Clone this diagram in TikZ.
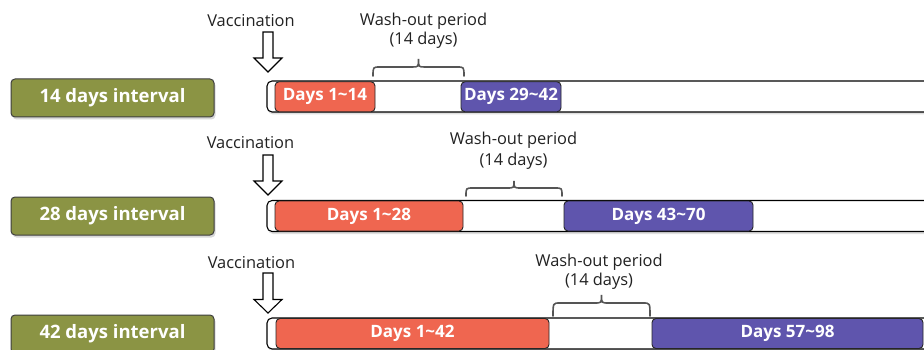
\documentclass[tikz,border=0pt]{standalone}
\usepackage{fontspec}
\setmainfont{Open Sans}
\usetikzlibrary{shadows}
\definecolor{gboxc}{HTML}{8B9444}
\definecolor{gedge}{HTML}{3E3E3E}
\definecolor{rbarc}{HTML}{EF6650}
\definecolor{bbarc}{HTML}{5F55AD}
\definecolor{bracec}{HTML}{555555}
\definecolor{txtc}{HTML}{222222}
\begin{document}
\begin{tikzpicture}[x=1pt,y=-1pt,
  lbl/.style={draw=gedge, fill=gboxc, rounded corners=4pt, minimum width=203pt,
    minimum height=38pt, inner sep=0pt, text=white, line width=1pt,
    font=\fontsize{18.5}{20}\selectfont\bfseries,
    drop shadow={opacity=0.3, shadow xshift=1.5pt, shadow yshift=-2.5pt}},
  dbar/.style={draw=black!85, rounded corners=4pt, minimum height=30pt, inner sep=0pt,
    text=white, line width=0.9pt, font=\fontsize{17}{18}\selectfont\bfseries},
  redbar/.style={dbar, fill=rbarc},
  bluebar/.style={dbar, fill=bbarc},
  wbar/.style={draw=black, fill=white, line width=1.1pt, rounded corners=5pt,
    drop shadow={opacity=0.25, shadow xshift=1pt, shadow yshift=-2.5pt}},
  vtext/.style={anchor=base, inner sep=0pt, text=txtc, font=\fontsize{16.4}{18}\selectfont},
  varrow/.style={draw=black, fill=white, line width=1.1pt, line join=miter},
  wbrace/.style={draw=bracec, line width=1.6pt, line cap=round}
]
\clip (0,0) rectangle (924,350);
\fill[white] (0,0) rectangle (924,350);

% ---------- Row 1 ----------
\node[lbl] (l1) at (112.5,98) {14 days interval};
\draw[wbar] (267,81) rectangle (945,112);
\node[redbar, minimum width=100pt] (r1) at (325,96.8) {Days 1\textasciitilde 14};
\node[bluebar, minimum width=100pt] (b1) at (511,96.8) {Days 29\textasciitilde 42};
\node[vtext] (v1) at (251,27) {Vaccination};
\draw[varrow] (263,32) -- (273,32) -- (273,58) -- (282,58) -- (268,72) -- (254,58) -- (263,58) -- cycle;
\node[vtext] (w1a) at (423.5,26) {Wash-out period};
\node[vtext] (w1b) at (423.5,45) {(14 days)};
\draw[wbrace] (373,76) .. controls (373,67) .. (380,67) -- (412,67)
  .. controls (418.5,67) .. (418.5,59) .. controls (418.5,67) .. (425,67)
  -- (457,67) .. controls (464,67) .. (464,76);

% ---------- Row 2 ----------
\node[lbl] (l2) at (112.5,216) {28 days interval};
\draw[wbar] (267,200.5) rectangle (945,231.5);
\node[redbar, minimum width=188pt] (r2) at (369,216) {Days 1\textasciitilde 28};
\node[bluebar, minimum width=189pt] (b2) at (658.5,216) {Days 43\textasciitilde 70};
\node[vtext] (v2) at (250.5,149) {Vaccination};
\draw[varrow] (263,155) -- (273,155) -- (273,181) -- (282,181) -- (268,195) -- (254,181) -- (263,181) -- cycle;
\node[vtext] (w2a) at (513.5,145) {Wash-out period};
\node[vtext] (w2b) at (513.5,165) {(14 days)};
\draw[wbrace] (466,196) .. controls (466,188) .. (473,188) -- (507,188)
  .. controls (514,188) .. (514,181) .. controls (514,188) .. (521,188)
  -- (555,188) .. controls (562,188) .. (562,196);

% ---------- Row 3 ----------
\node[lbl] (l3) at (112.5,334) {42 days interval};
\draw[wbar] (267,318) rectangle (945,349);
\node[redbar, minimum width=273pt] (r3) at (412.5,333.5) {Days 1\textasciitilde 42};
\node[bluebar, minimum width=271pt] (b3) at (787.5,333.5) {Days 57\textasciitilde 98};
\node[vtext] (v3) at (251.5,268) {Vaccination};
\draw[varrow] (263,273) -- (273,273) -- (273,299.5) -- (282,299.5) -- (268,313) -- (254,299.5) -- (263,299.5) -- cycle;
\node[vtext] (w3a) at (599,266) {Wash-out period};
\node[vtext] (w3b) at (599,285) {(14 days)};
\draw[wbrace] (553,316) .. controls (553,303) .. (560,303) -- (594.5,303)
  .. controls (601.5,303) .. (601.5,295) .. controls (601.5,303) .. (608.5,303)
  -- (643,303) .. controls (650,303) .. (650,316);
\end{tikzpicture}
\end{document}
